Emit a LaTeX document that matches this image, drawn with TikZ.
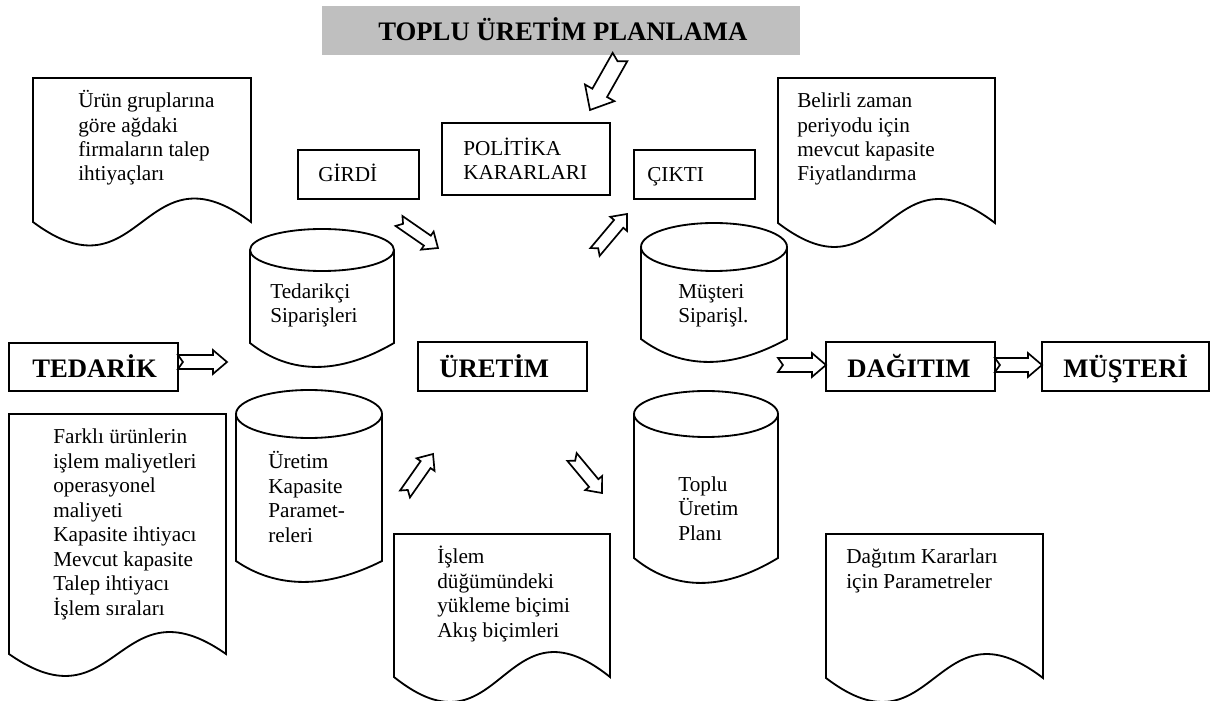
\documentclass[tikz,border=0pt]{standalone}
\usepackage{fontspec}
\setmainfont{Liberation Serif}
\usetikzlibrary{calc,fit}
\definecolor{bannergray}{RGB}{191,191,191}
\tikzset{
  outline/.style={draw=black, line width=1.3pt, line join=miter},
  frame/.style={draw=black, line width=1.3pt, inner sep=0pt, outer sep=0pt},
  % multi-line labels are placed by the baseline of their last line
  body/.style={font=\fontsize{15.1pt}{17.4pt}\selectfont, inner sep=0pt, anchor=base west, align=left},
  heavy/.style={font=\fontsize{19pt}{22pt}\selectfont\bfseries, inner sep=0pt, anchor=base west},
  hollow/.style={draw=black, fill=white, line width=1.2pt, line join=miter},
}
% document symbol: left, top, right, bottom edge y, wave amplitude
\newcommand\docsymbol[5]{%
  \draw[outline] (#1,#4) -- (#1,#2) -- (#3,#2) -- (#3,#4)
    .. controls ({(#1+#3)/2},{#4-3.46*#5}) and ({(#1+#3)/2},{#4+3.46*#5}) .. (#1,#4) -- cycle;}
% storage drum: left, right, lid centre y, lid y radius, side bottom y, dip of the base
\newcommand\drum[6]{%
  \draw[outline] ({(#1+#2)/2},#3) ellipse [x radius={(#2-#1)/2}, y radius=#4];
  \draw[outline] (#1,#3) -- (#1,#5)
    .. controls ({#1+0.28*(#2-#1)},{#5+1.33*#6}) and ({#1+0.62*(#2-#1)},{#5+1.33*#6}) .. (#2,#5)
    -- (#2,#3);}
% notched block arrow: name, tail, tip, shaft half width, head half width, head length
\newcommand\blockarrow[6]{%
  \coordinate (#1-base) at ($(#3)!#6!(#2)$);
  \draw[hollow] ($(#2)!#4!90:(#3)$) -- ($(#1-base)!#4!-90:(#2)$) -- ($(#1-base)!#5!-90:(#2)$)
    -- (#3) -- ($(#1-base)!#5!90:(#2)$) -- ($(#1-base)!#4!90:(#2)$) -- ($(#2)!#4!-90:(#3)$)
    -- ($(#2)!3.5pt!(#3)$) -- cycle;}
\begin{document}
\begin{tikzpicture}[x=0.025cm, y=-0.025cm]
\useasboundingbox (0,0) rectangle (1211,701);

% banner
\node[fill=bannergray, inner sep=0pt, fit={(322,6) (800,55)}] (banner) {};
\node[heavy] (bannertext) at (378,41) {TOPLU ÜRETİM PLANLAMA};

% rectangular boxes
\node[frame, fit={(298,150) (419,199)}] (girdi) {};
\node[body] (girditext) at (318,182) {GİRDİ};
\node[frame, fit={(442,123) (610,195)}] (politika) {};
\node[body] (politikatext) at (463,180) {POLİTİKA\\KARARLARI};
\node[frame, fit={(634,150) (755,199)}] (cikti) {};
\node[body] (ciktitext) at (647,182) {ÇIKTI};

\node[frame, fit={(9,343) (178,391)}] (tedarik) {};
\node[heavy] (tedariktext) at (32,378) {TEDARİK};
\node[frame, fit={(418,342) (587,391)}] (uretim) {};
\node[heavy] (uretimtext) at (439,378) {ÜRETİM};
\node[frame, fit={(826,342) (995,391)}] (dagitim) {};
\node[heavy] (dagitimtext) at (847,378) {DAĞITIM};
\node[frame, fit={(1042,342) (1209,391)}] (musteri) {};
\node[heavy] (musteritext) at (1063,378) {MÜŞTERİ};

% documents
\docsymbol{33}{78}{251}{222}{23.5}
\node[body] (talep) at (78,181) {Ürün gruplarına\\göre ağdaki\\firmaların talep\\ihtiyaçları};
\docsymbol{778}{78}{995}{223}{24}
\node[body] (kapasite) at (797,181) {Belirli zaman\\periyodu için\\mevcut kapasite\\Fiyatlandırma};
\docsymbol{9}{414}{226}{654}{22}
\node[body] (maliyet) at (53,615) {Farklı ürünlerin\\işlem maliyetleri\\operasyonel\\maliyeti\\Kapasite ihtiyacı\\Mevcut kapasite\\Talep ihtiyacı\\İşlem sıraları};
\docsymbol{394}{534}{610}{677}{25}
\node[body] (islem) at (437,637) {İşlem\\düğümündeki\\yükleme biçimi\\Akış biçimleri};
\docsymbol{826}{534}{1043}{678}{24}
\node[body] (dagparam) at (846,588) {Dağıtım Kararları\\için Parametreler};

% drums
\drum{250}{394}{250}{21}{343}{24}
\node[body] (tedsip) at (270,323) {Tedarikçi\\Siparişleri};
\drum{236}{382}{414}{24}{561}{21}
\node[body] (kappar) at (268,542) {Üretim\\Kapasite\\Paramet-\\releri};
\drum{641}{787}{247}{24}{339}{23}
\node[body] (mussip) at (678,323) {Müşteri\\Siparişl.};
\drum{634}{778}{414}{23}{558}{25}
\node[body] (plan) at (678,540) {Toplu\\Üretim\\Planı};

% arrows
\coordinate (downtail) at (620,57);
\coordinate (downtip) at (590,110);
\blockarrow{a1}{downtail}{downtip}{6pt}{12pt}{14pt}
\coordinate (intail) at (399,221);
\coordinate (intip) at (438,248);
\blockarrow{a2}{intail}{intip}{4.3pt}{7.8pt}{9.2pt}
\coordinate (outtail) at (595,252);
\coordinate (outtip) at (627,214);
\blockarrow{a3}{outtail}{outtip}{4.3pt}{7.8pt}{9.2pt}
\coordinate (tedtip) at (227,362);
\coordinate (tedtail) at (tedarik.east |- tedtip);
\blockarrow{a4}{tedtail}{tedtip}{5pt}{8.5pt}{10pt}
\coordinate (dagtail) at (778,365);
\coordinate (dagtip) at (dagitim.west |- dagtail);
\blockarrow{a5}{dagtail}{dagtip}{5pt}{8.5pt}{10pt}
\coordinate (mustail) at (dagitim.east |- dagtail);
\coordinate (mustip) at (musteri.west |- dagtail);
\blockarrow{a6}{mustail}{mustip}{5pt}{8.5pt}{10pt}
\coordinate (uptail) at (405,494);
\coordinate (uptip) at (433,454);
\blockarrow{a7}{uptail}{uptip}{4.3pt}{7.8pt}{9.2pt}
\coordinate (sdtail) at (572,457);
\coordinate (sdtip) at (602,493);
\blockarrow{a8}{sdtail}{sdtip}{4.3pt}{7.8pt}{9.2pt}
\end{tikzpicture}
\end{document}
